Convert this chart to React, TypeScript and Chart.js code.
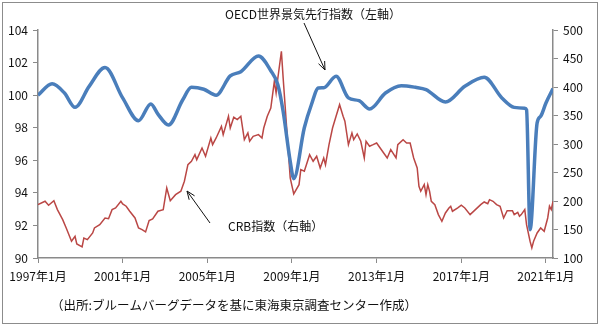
import React, { useEffect, useRef } from "react";
import { Chart, registerables } from "chart.js";

Chart.register(...registerables);

// Month index: 0 = 1997年1月
const xTickMonths = [0, 48, 96, 144, 192, 240, 288];
const xTickLabels = ["1997年1月", "2001年1月", "2005年1月", "2009年1月", "2013年1月", "2017年1月", "2021年1月"];

const oecdMonths = [0, 8, 15, 21, 29, 38, 48, 57, 64, 68, 74, 82, 87, 94, 101, 109, 115, 125, 132, 136, 139, 143, 145, 151, 155, 159, 162, 169, 176, 182, 188, 197, 206, 214, 220, 231, 242, 253, 263, 270, 276, 277, 279, 283, 285, 288, 292];
const oecdValues = [100.0, 100.7, 100.13, 99.25, 100.54, 101.7, 99.83, 98.43, 99.46, 98.84, 98.17, 99.7, 100.48, 100.36, 100.0, 101.18, 101.44, 102.4, 101.5, 100.64, 99.0, 95.94, 94.87, 98.0, 99.41, 100.44, 100.45, 101.16, 99.83, 99.66, 99.15, 100.13, 100.58, 100.48, 100.34, 99.58, 100.54, 101.1, 99.83, 99.25, 99.2, 99.1, 91.74, 98.3, 98.7, 99.52, 100.4];

const crbMonths = [0, 4, 6, 9, 11, 14, 16, 19, 21, 22, 25, 26, 28, 31, 32, 35, 38, 40, 42, 44, 47, 48, 50, 52, 55, 57, 59, 61, 63, 65, 68, 71, 73, 75, 78, 81, 83, 85, 87, 89, 90, 93, 95, 98, 99, 101, 104, 105, 108, 109, 111, 113, 115, 117, 119, 120, 122, 125, 127, 128, 130, 132, 134, 135, 136, 138, 139, 141, 143, 145, 148, 149, 151, 154, 156, 158, 160, 162, 163, 165, 167, 169, 171, 173, 174, 176, 178, 179, 181, 183, 185, 186, 188, 190, 192, 194, 196, 198, 200, 203, 204, 207, 209, 211, 213, 215, 216, 217, 219, 220, 221, 222, 223, 225, 227, 229, 231, 233, 234, 235, 238, 240, 242, 245, 248, 251, 253, 255, 256, 258, 260, 262, 264, 266, 269, 270, 272, 273, 274, 276, 277, 279, 280, 281, 283, 285, 287, 289, 290, 291, 292];
const crbValues = [193.6, 199.5, 192.5, 200.6, 184.9, 167.3, 152.7, 129.4, 138.2, 124.6, 119.4, 135.1, 132.2, 143.9, 152.7, 158.5, 170.2, 169.0, 184.9, 187.8, 199.5, 194.8, 190.8, 182.0, 170.2, 152.7, 149.7, 145.7, 165.6, 168.5, 182.0, 184.9, 222.9, 200.6, 211.1, 217.1, 234.6, 263.7, 269.7, 281.3, 272.5, 293.0, 278.5, 310.6, 298.8, 310.6, 331.0, 316.4, 348.6, 328.0, 346.9, 342.7, 348.6, 307.6, 319.3, 304.8, 313.5, 316.4, 310.6, 328.0, 348.6, 363.2, 410.0, 389.5, 415.8, 462.6, 415.8, 328.0, 240.4, 212.3, 228.7, 255.0, 252.2, 281.3, 269.7, 278.5, 257.9, 275.5, 263.7, 298.8, 328.0, 348.6, 369.0, 348.6, 339.9, 298.8, 319.3, 307.6, 317.6, 304.8, 275.5, 304.8, 296.0, 298.8, 301.8, 293.0, 284.3, 275.5, 290.0, 275.5, 298.8, 307.6, 301.8, 301.8, 275.5, 257.9, 225.8, 217.1, 228.7, 211.1, 228.7, 217.1, 199.5, 193.6, 176.1, 164.5, 179.0, 187.8, 190.8, 182.0, 187.8, 192.5, 187.8, 176.1, 184.9, 193.6, 198.3, 195.4, 202.4, 199.5, 193.6, 190.8, 170.2, 183.1, 183.1, 176.1, 180.0, 173.2, 176.1, 184.9, 158.5, 129.4, 117.8, 129.4, 143.9, 152.7, 146.9, 170.2, 190.8, 184.9, 199.5];

const leftMin = 90, leftMax = 104, leftStep = 2;
const rightMin = 100, rightMax = 500, rightStep = 50;
const xMax = 292;

const oecdLabel = "OECD世界景気先行指数（左軸）";
const crbLabel = "CRB指数（右軸）";
const sourceNote = "（出所:ブルームバーグデータを基に東海東京調査センター作成）";

const FONT = '"Noto Sans CJK JP", "Noto Sans", sans-serif';
const AXIS_COLOR = "#8a8a8a";

function arrow(ctx: CanvasRenderingContext2D, x1: number, y1: number, x2: number, y2: number) {
  ctx.save();
  ctx.strokeStyle = "#111";
  ctx.lineWidth = 1;
  ctx.beginPath();
  ctx.moveTo(x1, y1);
  ctx.lineTo(x2, y2);
  const a = Math.atan2(y2 - y1, x2 - x1);
  const len = 9, sp = 0.38;
  ctx.moveTo(x2, y2);
  ctx.lineTo(x2 - len * Math.cos(a - sp), y2 - len * Math.sin(a - sp));
  ctx.moveTo(x2, y2);
  ctx.lineTo(x2 - len * Math.cos(a + sp), y2 - len * Math.sin(a + sp));
  ctx.stroke();
  ctx.restore();
}

const annotations = {
  id: "annotations",
  afterDraw(chart: any) {
    const ctx = chart.ctx as CanvasRenderingContext2D;
    ctx.save();
    ctx.fillStyle = "#111";
    ctx.textBaseline = "middle";
    ctx.font = `12px ${FONT}`;
    ctx.textAlign = "center";
    ctx.fillText(oecdLabel, 313, 14);
    ctx.textAlign = "left";
    ctx.fillText(crbLabel, 228, 226);
    ctx.font = `12.5px ${FONT}`;
    ctx.fillText(sourceNote, 51, 305);
    ctx.restore();
    arrow(ctx, 304, 23, 325, 70);
    arrow(ctx, 210, 223, 187, 191);
  },
};

export default function App() {
  const ref = useRef<HTMLCanvasElement>(null);
  useEffect(() => {
    if (!ref.current) return;
    const chart = new Chart(ref.current, {
      type: "line",
      data: {
        datasets: [
          {
            label: oecdLabel,
            data: oecdMonths.map((m, i) => ({ x: m, y: oecdValues[i] })),
            yAxisID: "yL",
            borderColor: "#4A7EBB",
            borderWidth: 3.5,
            pointRadius: 0,
            cubicInterpolationMode: "monotone",
          },
          {
            label: crbLabel,
            data: crbMonths.map((m, i) => ({ x: m, y: crbValues[i] })),
            yAxisID: "yR",
            borderColor: "#BA4745",
            borderWidth: 1.5,
            pointRadius: 0,
            tension: 0,
          },
        ],
      },
      options: {
        responsive: false,
        animation: false,
        layout: { padding: { top: 30, left: 0, right: 0, bottom: 0 } },
        plugins: { legend: { display: false }, tooltip: { enabled: false } },
        scales: {
          x: {
            type: "linear",
            min: 0,
            max: xMax,
            afterBuildTicks: (s: any) => {
              s.ticks = xTickMonths.map((v) => ({ value: v }));
            },
            afterFit: (s: any) => {
              s.height = 68;
            },
            ticks: {
              autoSkip: false,
              maxRotation: 0,
              padding: 6,
              color: "#111",
              font: { family: FONT, size: 12 },
              callback: (v: any) => {
                const i = xTickMonths.indexOf(Number(v));
                return i >= 0 ? xTickLabels[i] : "";
              },
            },
            grid: { drawOnChartArea: false, drawTicks: true, tickLength: 5, color: AXIS_COLOR },
            border: { color: AXIS_COLOR, width: 1.5 },
          },
          yL: {
            position: "left",
            min: leftMin,
            max: leftMax,
            afterFit: (s: any) => {
              s.width = 38;
            },
            ticks: { stepSize: leftStep, padding: 5, color: "#111", font: { family: FONT, size: 12 } },
            grid: { drawOnChartArea: false, drawTicks: true, tickLength: 5, color: AXIS_COLOR },
            border: { color: AXIS_COLOR, width: 1.5 },
          },
          yR: {
            position: "right",
            min: rightMin,
            max: rightMax,
            afterFit: (s: any) => {
              s.width = 47;
            },
            ticks: { stepSize: rightStep, padding: 5, color: "#111", font: { family: FONT, size: 12 } },
            grid: { drawOnChartArea: false, drawTicks: true, tickLength: 5, color: AXIS_COLOR },
            border: { color: AXIS_COLOR, width: 1.5 },
          },
        },
      },
      plugins: [annotations],
    } as any);
    return () => chart.destroy();
  }, []);

  return (
    <div style={{ position: "absolute", left: 0, top: 0, width: 600, height: 326, background: "#fff" }}>
      <canvas ref={ref} width={600} height={326} style={{ display: "block", position: "absolute", left: 0, top: 0 }} />
      <div
        style={{
          position: "absolute",
          left: 2,
          top: 2,
          width: 594,
          height: 320,
          border: "1.5px solid #8c8c8c",
          pointerEvents: "none",
        }}
      />
    </div>
  );
}
